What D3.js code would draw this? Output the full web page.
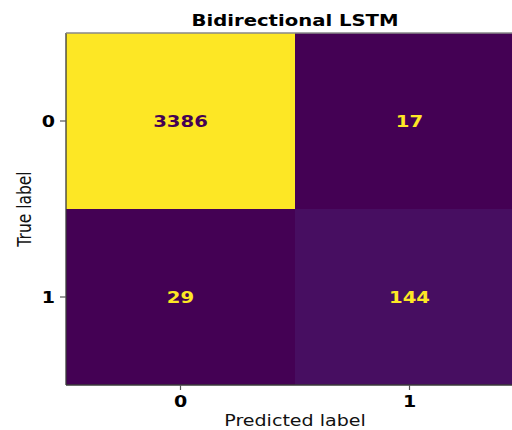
<!DOCTYPE html>
<html>
<head>
<meta charset="utf-8">
<script src="https://cdn.jsdelivr.net/npm/d3@7"></script>
<style>
  html, body { margin: 0; padding: 0; background: #fff; overflow: hidden; }
  svg { display: block; font-family: "DejaVu Sans", sans-serif; }
</style>
</head>
<body>
<script>
const title = "Bidirectional LSTM";
const trueLabels = ["0", "1"];
const predLabels = ["0", "1"];
const row0 = [3386, 17];
const row1 = [29, 144];
const matrix = [row0, row1];
const xTitle = "Predicted label";
const yTitle = "True label";

const W = 512, H = 430;
const sx = 1.19; // horizontal stretch of the original picture
const mLeft = 66, mTop = 33, cellW = 229, plotH = 352;
const plotW = cellW * predLabels.length;

const svg = d3.select("body").append("svg").attr("width", W).attr("height", H);

const x = d3.scaleBand().domain(predLabels).range([mLeft, mLeft + plotW]);
const y = d3.scaleBand().domain(trueLabels).range([mTop, mTop + plotH]);

const cells = [];
matrix.forEach((row, i) => row.forEach((v, j) => cells.push({t: trueLabels[i], p: predLabels[j], v})));
const vals = cells.map(d => d.v);
const color = d3.scaleSequential(d3.interpolateViridis).domain([d3.min(vals), d3.max(vals)]);
const thresh = (d3.min(vals) + d3.max(vals)) / 2;

svg.append("g").selectAll("rect").data(cells).join("rect")
  .attr("x", d => x(d.p)).attr("y", d => y(d.t))
  .attr("width", x.bandwidth()).attr("height", y.bandwidth())
  .attr("fill", d => color(d.v)).attr("shape-rendering", "crispEdges");

svg.append("g").selectAll("text").data(cells).join("text")
  .attr("transform", d => `translate(${x(d.p) + x.bandwidth() / 2},${y(d.t) + y.bandwidth() / 2 + 6}) scale(${sx},1)`)
  .attr("text-anchor", "middle")
  .attr("font-size", 16.5).attr("font-weight", "bold")
  .attr("fill", d => d.v > thresh ? color(d3.min(vals)) : color(d3.max(vals)))
  .text(d => d.v);

// spines
const sp = svg.append("g").attr("stroke", "#3a3a3a").attr("stroke-width", 1.3).attr("fill", "none");
sp.append("line").attr("x1", mLeft).attr("x2", mLeft).attr("y1", mTop).attr("y2", mTop + plotH);
sp.append("line").attr("x1", mLeft).attr("x2", mLeft + plotW).attr("y1", mTop).attr("y2", mTop).attr("stroke", "#888");
sp.append("line").attr("x1", mLeft).attr("x2", mLeft + plotW).attr("y1", mTop + plotH).attr("y2", mTop + plotH);

// axes
const xAxis = svg.append("g").attr("transform", `translate(0,${mTop + plotH})`)
  .call(d3.axisBottom(x).tickSize(5).tickPadding(0));
xAxis.select(".domain").remove();
xAxis.selectAll(".tick line").attr("stroke", "#555").attr("stroke-width", 1.2);
xAxis.selectAll(".tick text")
  .attr("y", null).attr("dy", null)
  .attr("transform", `translate(0,22) scale(${sx},1)`)
  .attr("font-size", 16).attr("font-weight", "bold").attr("fill", "#000")
  .attr("font-family", "DejaVu Sans");

const yAxis = svg.append("g").attr("transform", `translate(${mLeft},0)`)
  .call(d3.axisLeft(y).tickSize(6).tickPadding(0));
yAxis.select(".domain").remove();
yAxis.selectAll(".tick line").attr("stroke", "#555").attr("stroke-width", 1.2);
yAxis.selectAll(".tick text")
  .attr("x", null).attr("dy", null)
  .attr("transform", `translate(-11,6) scale(${sx},1)`)
  .attr("text-anchor", "end")
  .attr("font-size", 16).attr("font-weight", "bold").attr("fill", "#000")
  .attr("font-family", "DejaVu Sans");

svg.append("text")
  .attr("transform", `translate(${mLeft + plotW / 2},26) scale(${sx},1)`)
  .attr("text-anchor", "middle").attr("font-size", 16.5).attr("font-weight", "bold")
  .text(title);

svg.append("text")
  .attr("transform", `translate(${mLeft + plotW / 2},425.5) scale(${sx},1)`)
  .attr("text-anchor", "middle").attr("font-size", 16).attr("fill", "#111")
  .text(xTitle);

svg.append("text")
  .attr("transform", `translate(31,${mTop + plotH / 2}) scale(1.3,1) rotate(-90)`)
  .attr("text-anchor", "middle").attr("font-size", 15.5).attr("fill", "#111")
  .text(yTitle);
</script>
</body>
</html>
